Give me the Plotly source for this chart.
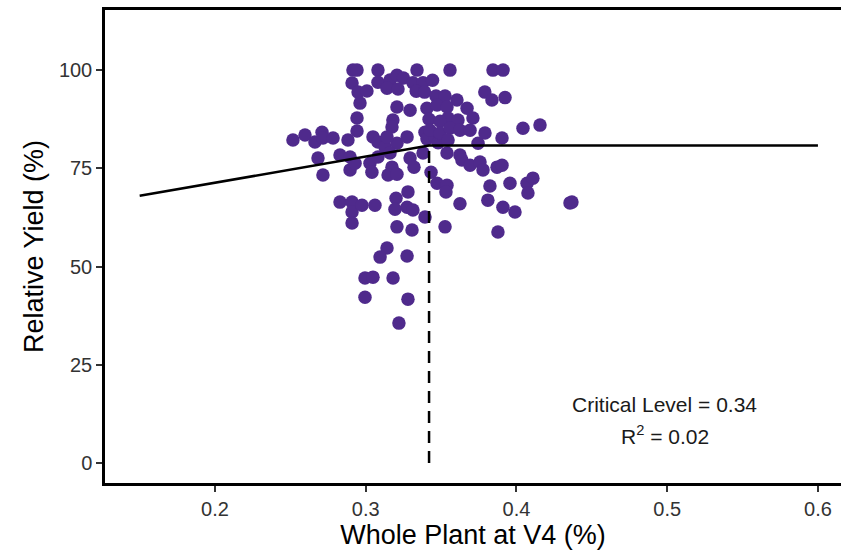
import plotly.graph_objects as go

# Observed data: whole-plant concentration at V4 (%) and relative yield (%)
x_conc = [
    0.2915, 0.2942, 0.3081, 0.334, 0.3559, 0.3844, 0.3911,
    0.2909, 0.3081, 0.3161, 0.3207, 0.325, 0.3313, 0.338, 0.3443, 0.3141, 0.3214,
    0.3335, 0.339, 0.3466, 0.3526, 0.3605, 0.379, 0.3837, 0.3924, 0.2949, 0.3008, 0.2962,
    0.2942, 0.2942, 0.3207, 0.3294, 0.3406, 0.3473, 0.3539, 0.3546, 0.3612, 0.3672,
    0.3711, 0.342, 0.3493, 0.318, 0.3174, 0.4043, 0.4156,
    0.2517, 0.2597, 0.2663, 0.271, 0.2716, 0.2783, 0.2882, 0.3048, 0.3081, 0.3128,
    0.3207, 0.3274, 0.3393, 0.3406, 0.346, 0.348, 0.3426, 0.3493, 0.3559, 0.3625,
    0.3692, 0.3791, 0.3904, 0.3546, 0.3745, 0.3141,
    0.2683, 0.2716, 0.2829, 0.2896, 0.2896, 0.2929, 0.3028, 0.3041, 0.3081, 0.3161,
    0.3174, 0.3148, 0.3207, 0.3294, 0.332, 0.338, 0.3433, 0.3539, 0.3625, 0.3638,
    0.3692, 0.3758, 0.3778, 0.3871, 0.3904,
    0.3473, 0.3539, 0.3532, 0.3824, 0.3957, 0.407, 0.4109, 0.4076, 0.3625, 0.381,
    0.391, 0.399, 0.4355, 0.4368, 0.328, 0.3201, 0.3194, 0.3274, 0.3313, 0.3393,
    0.3207, 0.3307, 0.3526, 0.3877, 0.2829, 0.2909, 0.2909, 0.2975, 0.3061, 0.2909,
    0.3141, 0.3095, 0.3274, 0.2995, 0.3048, 0.3181, 0.2995, 0.328, 0.322,
]
y_yield = [
    100, 100, 100, 100, 100, 100, 100,
    96.7, 96.9, 97.5, 98.7, 98.0, 96.8, 96.8, 97.4, 95.4, 95.2,
    94.6, 94.4, 93.4, 93.4, 92.4, 94.4, 92.4, 93.0, 94.4, 94.7, 91.6,
    87.8, 84.5, 90.6, 89.8, 90.3, 91.1, 90.6, 87.8, 87.3, 90.3,
    87.8, 87.5, 87.0, 87.3, 85.5, 85.2, 86.0,
    82.2, 83.5, 81.7, 84.2, 82.7, 82.7, 82.2, 83.0, 81.7, 80.4,
    81.4, 83.0, 84.2, 82.5, 83.0, 81.5, 84.7, 84.0, 85.2, 84.7,
    84.7, 84.0, 82.7, 82.2, 81.4, 83.0,
    77.6, 73.3, 78.4, 77.9, 74.6, 76.3, 76.3, 74.0, 77.9, 78.9,
    75.3, 73.3, 73.5, 77.6, 75.3, 78.9, 74.0, 78.9, 78.4, 77.1,
    75.8, 76.6, 74.6, 75.3, 75.8,
    71.2, 70.7, 69.0, 70.5, 71.2, 71.2, 72.5, 68.7, 66.0, 66.9,
    65.1, 63.9, 66.2, 66.4, 69.0, 67.4, 64.6, 65.1, 64.4, 62.6,
    60.1, 59.3, 60.1, 58.8, 66.4, 66.4, 63.9, 65.6, 65.6, 61.1,
    54.7, 52.4, 52.7, 47.1, 47.3, 47.1, 42.2, 41.7, 35.6,
]

# Linear-plateau model
fit_x = [0.15, 0.342, 0.6]
fit_y = [68.0, 80.8, 80.8]
critical_x = [0.342, 0.342]
critical_y = [0, 80.8]

x_ticks = [0.2, 0.3, 0.4, 0.5, 0.6]
y_ticks = [0, 25, 50, 75, 100]

FONT = "Liberation Sans, Arial, sans-serif"

fig = go.Figure()
fig.add_trace(go.Scatter(
    x=x_conc, y=y_yield, mode="markers",
    marker=dict(size=13.5, color="#4F2A8C", line=dict(width=0)),
    showlegend=False, hoverinfo="skip",
))
fig.add_trace(go.Scatter(
    x=fit_x, y=fit_y, mode="lines",
    line=dict(color="black", width=2.5),
    showlegend=False, hoverinfo="skip",
))
fig.add_trace(go.Scatter(
    x=critical_x, y=critical_y, mode="lines",
    line=dict(color="black", width=2.5, dash="12px,8px"),
    showlegend=False, hoverinfo="skip",
))

fig.add_annotation(x=0.4985, y=14.8, text="Critical Level = 0.34", showarrow=False,
                   font=dict(family=FONT, size=21, color="#1a1a1a"), xanchor="center", yanchor="middle")
fig.add_annotation(x=0.4985, y=7.1, text="R<sup>2</sup> = 0.02", showarrow=False,
                   font=dict(family=FONT, size=21, color="#1a1a1a"), xanchor="center", yanchor="middle")

fig.update_layout(
    width=841, height=557,
    margin=dict(l=105, r=0, t=10, b=74),
    plot_bgcolor="white", paper_bgcolor="white",
    font=dict(family=FONT),
    xaxis=dict(
        range=[0.127, 0.6153], tickvals=x_ticks, ticktext=[str(v) for v in x_ticks],
        showgrid=False, zeroline=False,
        showline=True, linecolor="black", linewidth=2.5, mirror=True,
        ticks="outside", ticklen=6, tickwidth=1.5, tickcolor="#333333",
        tickfont=dict(family=FONT, size=20, color="#333333"),
        title=dict(text="Whole Plant at V4 (%)", font=dict(family=FONT, size=27, color="black"), standoff=4),
    ),
    yaxis=dict(
        range=[-5.1, 115.3], tickvals=y_ticks,
        showgrid=False, zeroline=False,
        showline=True, linecolor="black", linewidth=2.5, mirror=False,
        ticks="outside", ticklen=6, tickwidth=1.5, tickcolor="#333333",
        tickfont=dict(family=FONT, size=20, color="#333333"),
        title=dict(text="Relative Yield (%)", font=dict(family=FONT, size=27, color="black"), standoff=8),
    ),
)

fig.write_html("out.html")
